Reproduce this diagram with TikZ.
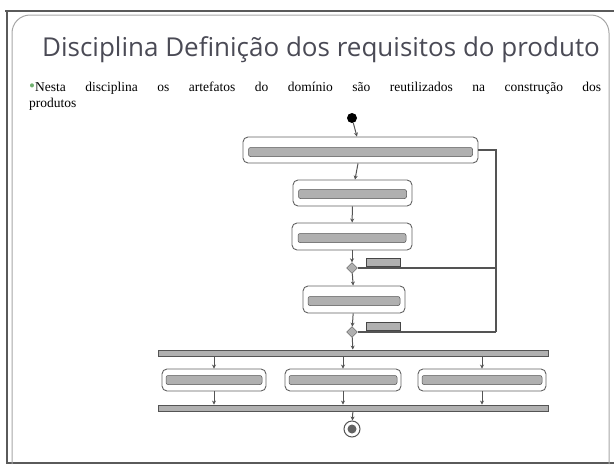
\documentclass[tikz,border=0pt]{standalone}
\usepackage{fontspec}
\setmainfont{Liberation Serif}
\newfontfamily\titlefont{Open Sans}
\usetikzlibrary{arrows.meta,shapes.geometric}
\definecolor{frame}{HTML}{5A5A5A}
\definecolor{titlec}{HTML}{4A4A55}
\definecolor{bulletg}{HTML}{6FB06E}
\definecolor{act}{HTML}{8C8C8C}
\definecolor{bar}{HTML}{B0B0B0}
\tikzset{
  actbox/.style={draw=act!70!black, line width=0.9pt, rounded corners=5pt, fill=white, inner sep=0pt},
  txtbar/.style={draw=act!60!black, line width=0.5pt, fill=bar, rounded corners=2pt, inner sep=0pt},
  flow/.style={draw=act!60!black, line width=1pt, -{Stealth[length=4pt,width=4pt]}},
  plain/.style={draw=act!60!black, line width=1.2pt},
  dec/.style={diamond, draw=act!60!black, fill=bar, inner sep=0pt, minimum width=11pt, minimum height=11pt},
  guard/.style={fill=bar, draw=act!50!black, line width=0.4pt, inner sep=0pt, minimum height=8pt},
  forkbar/.style={draw=act!60!black, fill=bar, line width=0.8pt, inner sep=0pt}
}
\begin{document}
\begin{tikzpicture}[x=1pt,y=-1pt]
\useasboundingbox (0,0) rectangle (616,466);
% slide frame
\draw[frame, line width=1.6pt] (5,11) -- (614,11);
\draw[frame, line width=1.6pt] (7,11) -- (7,463) -- (614,463);
\draw[gray!70, line width=1pt, rounded corners=18pt] (12,464) -- (12,15) -- (609,15) -- (609,464);
% title and bullet
\node[font=\titlefont\fontsize{26}{30}\selectfont, text=titlec, anchor=center] (title) at (321,50) {Disciplina Definição dos requisitos do produto};
\node[anchor=north west, inner sep=0pt, align=left, font=\fontsize{13.5}{16}\selectfont] (bullet) at (29,82)
  {\makebox[572pt][s]{\textcolor{bulletg}{\fontsize{17}{16}\selectfont\textbullet}Nesta disciplina os artefatos do domínio são reutilizados na construção dos}\\produtos};
% start
\node[circle, fill=black, minimum size=10pt, inner sep=0pt] (start) at (352,118) {};
% action 1
\node[actbox, minimum width=235pt, minimum height=26pt] (a1) at (360.5,150) {};
\node[txtbar, minimum width=224pt, minimum height=9pt] (t1) at (360.5,152) {};
% action 2
\node[actbox, minimum width=119pt, minimum height=26pt] (a2) at (352.5,193) {};
\node[txtbar, minimum width=108pt, minimum height=9pt] (t2) at (352.5,194) {};
% action 3
\node[actbox, minimum width=120pt, minimum height=27pt] (a3) at (352,236.5) {};
\node[txtbar, minimum width=108pt, minimum height=9pt] (t3) at (352,238) {};
% decision 1
\node[dec] (d1) at (352,268) {};
\node[guard, minimum width=34pt, anchor=south west] (g1) at (366,266) {};
% action 4
\node[actbox, minimum width=102pt, minimum height=27pt] (a4) at (354,299.5) {};
\node[txtbar, minimum width=92pt, minimum height=9pt] (t4) at (354,301) {};
% decision 2
\node[dec] (d2) at (352,332) {};
\node[guard, minimum width=34pt, anchor=south west] (g2) at (366,330) {};
% fork / join region
\node[forkbar, minimum width=390pt, minimum height=6pt] (fork) at (353,353) {};
\node[forkbar, minimum width=390pt, minimum height=6pt] (join) at (353,408) {};
\node[actbox, minimum width=104pt, minimum height=22pt] (p1) at (214,380) {};
\node[txtbar, minimum width=96pt, minimum height=9pt] (q1) at (214,380) {};
\node[actbox, minimum width=116pt, minimum height=22pt] (p2) at (343,380) {};
\node[txtbar, minimum width=108pt, minimum height=9pt] (q2) at (343,380) {};
\node[actbox, minimum width=128pt, minimum height=22pt] (p3) at (482,380) {};
\node[txtbar, minimum width=120pt, minimum height=9pt] (q3) at (482,380) {};
% end
\node[circle, draw=act!60!black, line width=1pt, fill=white, minimum size=16pt, inner sep=0pt] (endo) at (352,429) {};
\node[circle, fill=act!70!black, minimum size=9pt, inner sep=0pt] (endi) at (352,429) {};
% right return path
\coordinate (r1) at (496,150);
\coordinate (r2) at (496,268);
\coordinate (r3) at (496,332);
% flows
\draw[flow] (start) -- (a1);
\draw[flow] (a1) -- (a2);
\draw[flow] (a2) -- (a3);
\draw[flow] (a3) -- (d1);
\draw[flow] (d1) -- (a4);
\draw[flow] (a4) -- (d2);
\draw[flow] (d2) -- (fork);
\draw[flow] (fork.south -| p1) -- (p1);
\draw[flow] (fork.south -| p2) -- (p2);
\draw[flow] (fork.south -| p3) -- (p3);
\draw[flow] (p1) -- (join.north -| p1);
\draw[flow] (p2) -- (join.north -| p2);
\draw[flow] (p3) -- (join.north -| p3);
\draw[flow] (join) -- (endo);
\draw[plain] (a1.east) -- (r1) -- (r3);
\draw[plain] (d1.east) -- (r2);
\draw[plain] (d2.east) -- (r3);
\end{tikzpicture}
\end{document}
